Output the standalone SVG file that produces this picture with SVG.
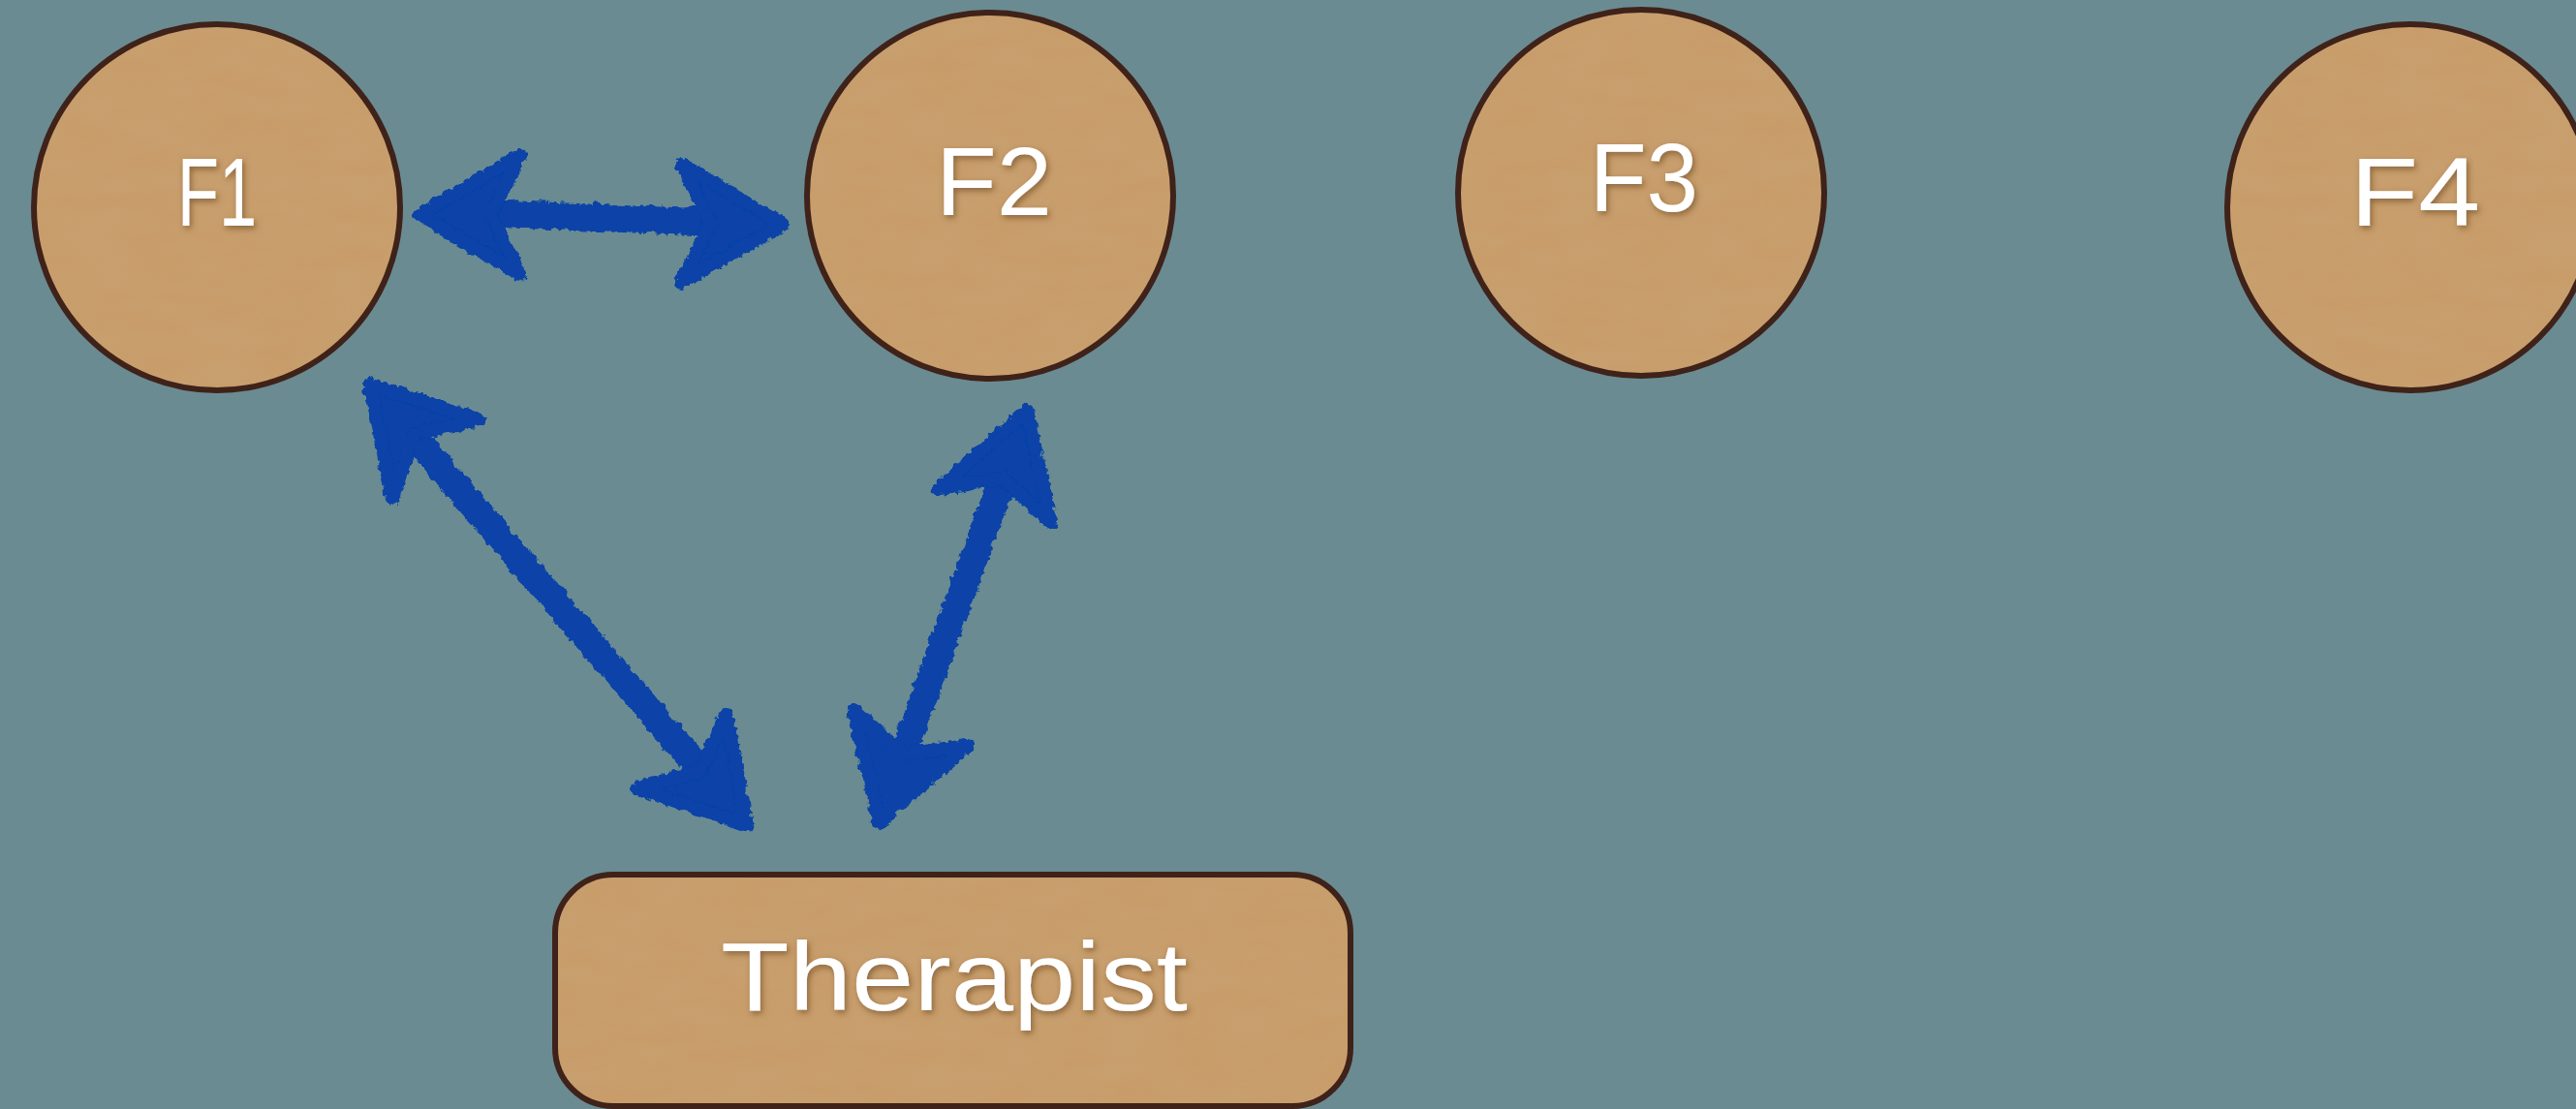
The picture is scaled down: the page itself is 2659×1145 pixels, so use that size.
<svg xmlns="http://www.w3.org/2000/svg" width="2659" height="1145" viewBox="0 0 2659 1145">
  <defs>
    <!-- parchment grain for the node faces -->
    <filter id="paper" x="0" y="0" width="100%" height="100%">
      <feTurbulence type="fractalNoise" baseFrequency="0.015 0.05" numOctaves="3" seed="4" result="noise"/>
      <feColorMatrix in="noise" type="matrix" values="0 0 0 0 0.55  0 0 0 0 0.38  0 0 0 0 0.2  0 0 0 0.35 0" result="tint"/>
      <feComposite in="tint" in2="SourceGraphic" operator="in" result="grain"/>
      <feMerge>
        <feMergeNode in="SourceGraphic"/>
        <feMergeNode in="grain"/>
      </feMerge>
    </filter>
    <!-- crayon-like roughness for the arrows -->
    <filter id="rough" x="-10%" y="-10%" width="120%" height="120%">
      <feTurbulence type="turbulence" baseFrequency="0.09" numOctaves="2" seed="7" result="t"/>
      <feDisplacementMap in="SourceGraphic" in2="t" scale="7" xChannelSelector="R" yChannelSelector="G"/>
    </filter>
    <!-- soft shadow under the labels -->
    <filter id="lift" x="-20%" y="-20%" width="140%" height="140%">
      <feDropShadow dx="2" dy="3" stdDeviation="3" flood-color="#5a3515" flood-opacity="0.55"/>
    </filter>
    <style>
      .face { fill: #C99C69; stroke: none; filter: url(#paper); }
      .rim { fill: none; stroke: #3F2219; stroke-width: 6; }
      .label { fill: #FFFFFF; font-family: "Liberation Sans", Arial, sans-serif; font-size: 100px; text-anchor: middle; filter: url(#lift); }
      .shaft { stroke: #0743A8; stroke-width: 28; stroke-linecap: round; fill: none; }
      .head { fill: #0743A8; stroke: #0743A8; stroke-width: 14; stroke-linejoin: round; }
    </style>
  </defs>

  <rect x="0" y="0" width="2659" height="1145" fill="#6A8B92"/>

  <g id="connectors" filter="url(#rough)">
    <!-- F1 <-> F2 -->
    <g id="edge-f1-f2">
      <line class="shaft" x1="495" y1="218" x2="740" y2="228"/>
      <polygon class="head" points="432,220 535,158 505,219 535,282"/>
      <polygon class="head" points="806,230 702,167 732,229 701,290"/>
    </g>
    <!-- F1 <-> Therapist -->
    <g id="edge-f1-therapist">
      <line class="shaft" x1="420" y1="443" x2="727" y2="800"/>
      <polygon class="head" points="380,395 493,432 425,447 403,512"/>
      <polygon class="head" points="769,850 748,735 721,795 656,812"/>
    </g>
    <!-- F2 <-> Therapist -->
    <g id="edge-f2-therapist">
      <line class="shaft" x1="1035" y1="487" x2="929" y2="782"/>
      <polygon class="head" points="1058,422 1083,538 1033,492 967,503"/>
      <polygon class="head" points="906,847 880,732 931,777 996,768"/>
    </g>
  </g>

  <g id="node-f1">
    <circle class="face" cx="224" cy="214" r="189"/>
    <circle class="rim" cx="224" cy="214" r="189"/>
    <text class="label" x="224" y="233" textLength="82" lengthAdjust="spacingAndGlyphs">F1</text>
  </g>
  <g id="node-f2">
    <circle class="face" cx="1022" cy="202" r="189"/>
    <circle class="rim" cx="1022" cy="202" r="189"/>
    <text class="label" x="1026" y="222" textLength="120" lengthAdjust="spacingAndGlyphs">F2</text>
  </g>
  <g id="node-f3">
    <circle class="face" cx="1694" cy="199" r="189"/>
    <circle class="rim" cx="1694" cy="199" r="189"/>
    <text class="label" x="1697" y="218" textLength="112" lengthAdjust="spacingAndGlyphs">F3</text>
  </g>
  <g id="node-f4">
    <circle class="face" cx="2488" cy="214" r="189"/>
    <circle class="rim" cx="2488" cy="214" r="189"/>
    <text class="label" x="2493" y="233" textLength="134" lengthAdjust="spacingAndGlyphs">F4</text>
  </g>
  <g id="node-therapist">
    <rect class="face" x="573" y="903" width="821" height="239" rx="60" ry="60"/>
    <rect class="rim" x="573" y="903" width="821" height="239" rx="60" ry="60"/>
    <text class="label" x="985" y="1043" textLength="482" lengthAdjust="spacingAndGlyphs">Therapist</text>
  </g>
</svg>
